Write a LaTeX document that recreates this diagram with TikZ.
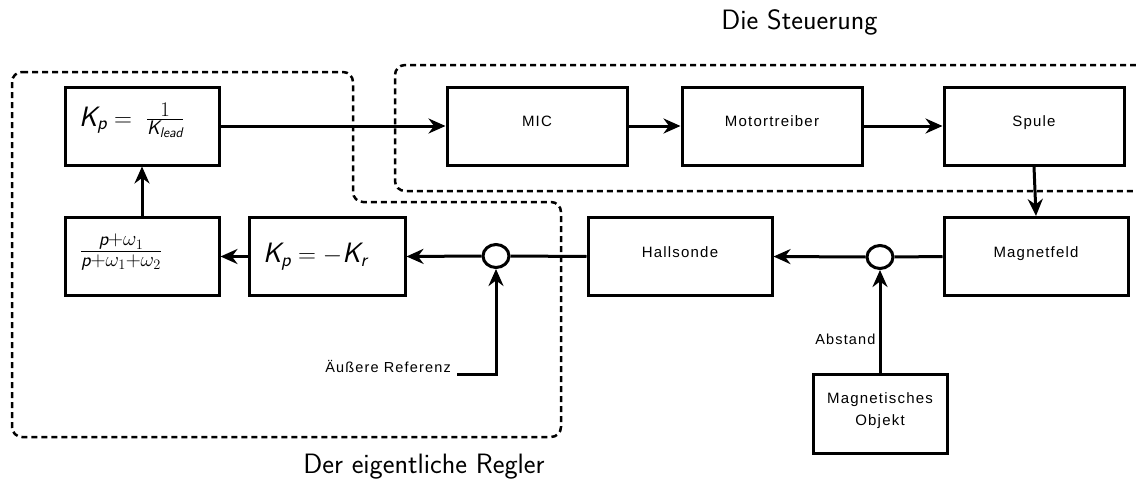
\documentclass[tikz,border=0pt]{standalone}
\usepackage{fontspec}
\usepackage{amsmath}
\usetikzlibrary{arrows.meta,shapes.geometric}
\newfontfamily\lab[LetterSpace=8]{Liberation Sans}
% sans-serif italic letters inside formulas
\newcommand{\si}[1]{\text{\sffamily\itshape #1}}

\begin{document}
\begin{tikzpicture}[x=1pt,y=-1pt,
  blk/.style={draw, line width=3pt, minimum height=78pt, inner sep=0pt,
    text height=11pt, text depth=10pt, font=\lab\fontsize{15}{22}\selectfont},
  eq/.style={draw, line width=3pt, minimum height=78pt, inner sep=0pt,
    align=left, font=\fontsize{28}{32}\selectfont},
  sum/.style={draw, line width=3pt, ellipse, minimum width=26pt,
    minimum height=23pt, inner sep=0pt},
  flow/.style={line width=3pt, -{Stealth[length=17pt,width=15pt]}},
  wire/.style={line width=3pt},
  grp/.style={line width=2.5pt, dash pattern=on 6pt off 4pt, rounded corners=10pt},
  side/.style={font=\lab\fontsize{14.5}{17}\selectfont, inner sep=3pt},
  title/.style={font=\sffamily\fontsize{28}{32}\selectfont}
]
\useasboundingbox (0,0) rectangle (1136,479);

% dashed group outlines
\draw[grp] (1136,65) -- (395,65) -- (395,191) -- (1136,191);
\draw[grp] (12,72) -- (353,72) -- (353,202) -- (561,202) -- (561,437) -- (12,437) -- cycle;

% controller blocks (text height/depth set the formula a little above centre)
\node[eq, minimum width=154pt, text width=126pt, text height=20pt, text depth=20pt]
  (klead) at (142,126)
  {$\si{K}_{\si{p}} = \;\frac{1}{\si{K}_{\si{lead}}}$};
\node[eq, minimum width=154pt, text width=124pt, text height=20pt, text depth=18pt]
  (filt) at (142,256.5)
  {$\frac{\si{p}+\omega_1}{\si{p}+\omega_1+\omega_2}$};
\node[eq, minimum width=156pt, text width=128pt, text height=20pt, text depth=8pt]
  (kr) at (327,256.5)
  {$\si{K}_{\si{p}} = -\si{K}_{\si{r}}$};
\node[sum] (sum1) at (496,256) {};

% plant blocks
\node[blk, minimum width=180pt] (mic) at (537,126) {MIC};
\node[blk, minimum width=180pt] (motor) at (772,126) {Motortreiber};
\node[blk, minimum width=180pt] (spule) at (1034,126) {Spule};
\node[blk, minimum width=184pt] (mfeld) at (1036,256.5) {Magnetfeld};
\node[sum] (sum2) at (880,257) {};
\node[blk, minimum width=184pt] (hall) at (680,256.5) {Hallsonde};
\node[draw, line width=3pt, minimum width=134pt, minimum height=79pt,
  inner sep=0pt, align=center, text depth=9pt,
  font=\lab\fontsize{15}{22}\selectfont] (obj) at (880,413.5) {Magnetisches\\Objekt};

% reference input
\coordinate (ref) at (457,374);
\node[side, anchor=base east] (reftxt) at (454,372) {Äußere Referenz};

% signal flow
\draw[flow] (klead.east) -- (mic.west);
\draw[flow] (mic.east) -- (motor.west);
\draw[flow] (motor.east) -- (spule.west);
\draw[flow] (spule.south) -- (mfeld.north);
\draw[wire] (mfeld.west) -- (sum2.east);
\draw[flow] (sum2.west) -- (hall.east);
\draw[wire] (hall.west) -- (sum1.east);
\draw[flow] (sum1.west) -- (kr.east);
\draw[flow] (kr.west) -- (filt.east);
\draw[flow] (filt.north) -- (klead.south);
\draw[flow] (obj.north) -- node[side, pos=0.32, left] {Abstand} (sum2.south);
\draw[flow] (ref) -| (sum1.south);

% group titles
\node[title, anchor=base] (ttl1) at (799.5,29) {Die Steuerung};
\node[title, anchor=base] (ttl2) at (424,473) {Der eigentliche Regler};
\end{tikzpicture}
\end{document}
